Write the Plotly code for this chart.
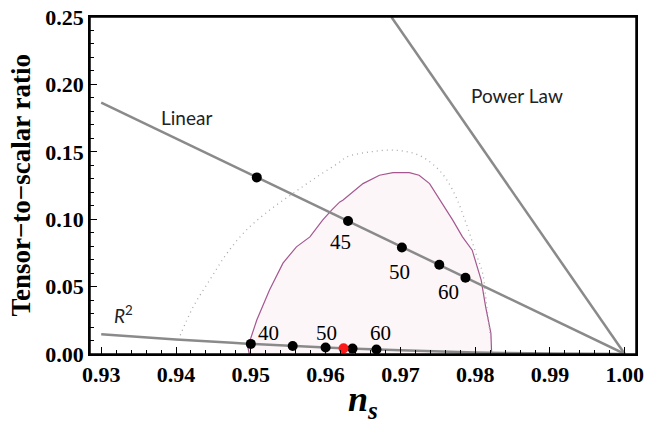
import plotly.graph_objects as go

# ---- data ----
# theory lines
linear_ns = [0.930, 1.000]
linear_r = [0.1865, 0.0]
power_ns = [0.9688, 1.000]
power_r = [0.250, 0.0]
r2_ns = [0.930, 0.940, 0.950, 0.960, 0.970, 0.980, 0.990, 1.000]
r2_r = [0.0147, 0.0108, 0.0075, 0.0048, 0.0027, 0.0012, 0.0003, 0.0]

# points on the lines
lin_pts_ns = [0.9508, 0.9630, 0.9702, 0.9752, 0.9787]
lin_pts_r = [0.1310, 0.0987, 0.0790, 0.0662, 0.0566]
r2_pts_ns = [0.9500, 0.9556, 0.9600, 0.9636, 0.9668]
r2_pts_r = [0.0075, 0.0059, 0.0048, 0.0040, 0.0033]
red_ns = [0.9624]
red_r = [0.0042]

# Planck-like contours
inner_ns = [0.9498, 0.9496, 0.9508, 0.9525, 0.9543, 0.9561, 0.9579, 0.9596,
            0.9608, 0.9619, 0.9623, 0.9650, 0.9672, 0.9690, 0.9712, 0.9725,
            0.9739, 0.9756, 0.9770, 0.9783, 0.9796, 0.9808, 0.9814, 0.9821, 0.9822]
inner_r = [0.0, 0.0052, 0.0252, 0.0474, 0.0674, 0.0795, 0.0869, 0.0993,
           0.1067, 0.1128, 0.1141, 0.1264, 0.1326, 0.1345, 0.1346, 0.1326,
           0.1264, 0.1116, 0.0993, 0.0869, 0.0770, 0.0548, 0.0350, 0.0153, 0.0]
outer_ns = [0.9403, 0.9423, 0.9445, 0.9468, 0.9494, 0.9525, 0.9556, 0.9588,
            0.9619, 0.9628, 0.9659, 0.9694, 0.9725, 0.9752, 0.9770, 0.9788,
            0.9801, 0.9810, 0.9814, 0.9816, 0.9821]
outer_r = [0.0104, 0.0350, 0.0548, 0.0746, 0.0919, 0.1067, 0.1190, 0.1313,
           0.1424, 0.1461, 0.1499, 0.1511, 0.1474, 0.1363, 0.1215, 0.0968,
           0.0746, 0.0598, 0.0424, 0.0326, 0.0104]

# text labels
num_text = ["45", "50", "60", "40", "50", "60"]
num_ns = [0.9620, 0.9699, 0.9764, 0.9523, 0.9601, 0.9674]
num_r = [0.0832, 0.0610, 0.0461, 0.0153, 0.0153, 0.0153]
model_text = ["Linear", "Power Law", "<i>R</i><sup>2</sup>"]
model_ns = [0.9414, 0.9856, 0.9330]
model_r = [0.1753, 0.1919, 0.0296]

x_ticks = [0.93, 0.94, 0.95, 0.96, 0.97, 0.98, 0.99, 1.00]
x_tick_text = ["0.93", "0.94", "0.95", "0.96", "0.97", "0.98", "0.99", "1.00"]
y_ticks = [0.00, 0.05, 0.10, 0.15, 0.20, 0.25]
y_tick_text = ["0.00", "0.05", "0.10", "0.15", "0.20", "0.25"]

LINE_GRAY = "#8a8a8a"
SERIF = "Liberation Serif, Times New Roman, serif"
SANS = "Lato, Open Sans, sans-serif"

fig = go.Figure()

fig.add_trace(go.Scatter(x=inner_ns, y=inner_r, mode="lines", fill="toself",
                         fillcolor="#fdf6f8",
                         line=dict(color="#a4578f", width=1.2),
                         hoverinfo="skip", showlegend=False))
fig.add_trace(go.Scatter(x=outer_ns, y=outer_r, mode="lines",
                         line=dict(color="#a8a8a8", width=1.3, dash="1px,4px", shape="spline"),
                         hoverinfo="skip", showlegend=False))

for xs, ys in [(linear_ns, linear_r), (power_ns, power_r), (r2_ns, r2_r)]:
    fig.add_trace(go.Scatter(x=xs, y=ys, mode="lines",
                             line=dict(color=LINE_GRAY, width=2.5, shape="spline"),
                             hoverinfo="skip", showlegend=False))

fig.add_trace(go.Scatter(x=lin_pts_ns + r2_pts_ns, y=lin_pts_r + r2_pts_r, mode="markers",
                         marker=dict(color="black", size=10),
                         showlegend=False))
fig.add_trace(go.Scatter(x=red_ns, y=red_r, mode="markers",
                         marker=dict(color="#ff1a1a", size=10),
                         showlegend=False))

for t, xv, yv in zip(num_text, num_ns, num_r):
    fig.add_annotation(x=xv, y=yv, text=t, showarrow=False,
                       font=dict(family=SERIF, size=21, color="black"))
for t, xv, yv in zip(model_text, model_ns, model_r):
    fig.add_annotation(x=xv, y=yv, text=t, showarrow=False,
                       font=dict(family=SANS, size=19, color="#222222"))

# axis titles
fig.add_annotation(xref="paper", yref="paper", x=0.5, y=-0.14, yanchor="middle",
                   text="<b><i>n</i></b><sub><b><i>s</i></b></sub>", showarrow=False,
                   font=dict(family=SERIF, size=36, color="black"))
fig.add_annotation(xref="paper", yref="paper", x=-0.128, y=0.5, xanchor="center",
                   text="<b>Tensor\u2212to\u2212scalar ratio</b>", textangle=-90,
                   showarrow=False, font=dict(family=SERIF, size=27, color="black"))

# plot frame
fig.add_shape(type="rect", xref="paper", yref="paper", x0=0, y0=0, x1=1, y1=1,
              line=dict(color="black", width=1.5), layer="above")

axis_common = dict(showgrid=False, zeroline=False, showline=True, linecolor="black",
                   linewidth=1.5, mirror=True, ticks="inside", ticklen=7,
                   tickcolor="black", tickwidth=1, automargin=False,
                   tickfont=dict(family=SERIF, size=22, color="black"))

fig.update_xaxes(range=[0.9285, 1.0015], tickvals=x_ticks,
                 ticktext=["<b>%s</b>" % s for s in x_tick_text],
                 minor=dict(ticks="inside", ticklen=4, dtick=0.002, tick0=0.93,
                            tickcolor="black"),
                 **axis_common)
fig.update_yaxes(range=[0.0, 0.25], tickvals=y_ticks,
                 ticktext=["<b>%s</b>" % s for s in y_tick_text],
                 minor=dict(ticks="inside", ticklen=4, dtick=0.01, tick0=0.0,
                            tickcolor="black"),
                 **axis_common)

fig.update_layout(width=647, height=421, margin=dict(l=90, r=11, t=17, b=67),
                  paper_bgcolor="white", plot_bgcolor="white")

fig.write_html("out.html", config={"displayModeBar": False},
               post_script="document.body.style.margin='0';document.body.style.overflow='hidden';")
